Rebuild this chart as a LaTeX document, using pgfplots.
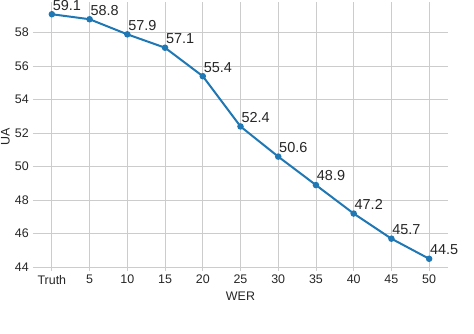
\documentclass[border=0pt]{standalone}
\usepackage{fontspec}
\setmainfont{Liberation Sans}
\usepackage{pgfplots}
\pgfplotsset{compat=1.18}
\definecolor{lineblue}{HTML}{1F77B4}
\definecolor{gridgray}{HTML}{CCCCCC}
\definecolor{txt}{HTML}{262626}

\begin{document}
\begin{tikzpicture}
\begin{axis}[
  name=ax,
  scale only axis, width=415bp, height=269bp,
  xmin=-0.5, xmax=10.5, ymin=43.77, ymax=59.83,
  xtick={0,...,10},
  xticklabels={Truth,5,10,15,20,25,30,35,40,45,50},
  ytick={44,46,...,58},
  axis line style={draw=none},
  major tick length=0pt,
  grid=major,
  major grid style={gridgray, line width=0.9bp},
  /pgf/number format/assume math mode=true,
  tick label style={font=\fontsize{12.5}{14}\selectfont, text=txt, inner sep=4bp},
  xlabel={WER}, ylabel={UA},
  xlabel style={at={(axis description cs:0.5,-0.078)}, anchor=north, inner sep=0pt,
    font=\fontsize{12.5}{14}\selectfont, text=txt},
  ylabel style={at={(axis description cs:-0.0554,0.5)}, anchor=south, inner sep=0pt,
    font=\fontsize{12.5}{14}\selectfont, text=txt},
  clip=false,
]
\addplot[lineblue, line width=2bp, mark=*, mark size=2.2bp,
  nodes near coords, point meta=explicit symbolic,
  every node near coord/.style={anchor=south west, inner sep=1bp, xshift=-1bp, yshift=2bp,
    font=\fontsize{14.5}{16}\selectfont, text=txt}]
coordinates {
  (0,59.1) [59.1]
  (1,58.8) [58.8]
  (2,57.9) [57.9]
  (3,57.1) [57.1]
  (4,55.4) [55.4]
  (5,52.4) [52.4]
  (6,50.6) [50.6]
  (7,48.9) [48.9]
  (8,47.2) [47.2]
  (9,45.7) [45.7]
  (10,44.5) [44.5]
};
\end{axis}
\pgfresetboundingbox
\path ([shift={(-33bp,-63bp)}]ax.south west) rectangle ([shift={(441bp,271bp)}]ax.south west);
\end{tikzpicture}
\end{document}
